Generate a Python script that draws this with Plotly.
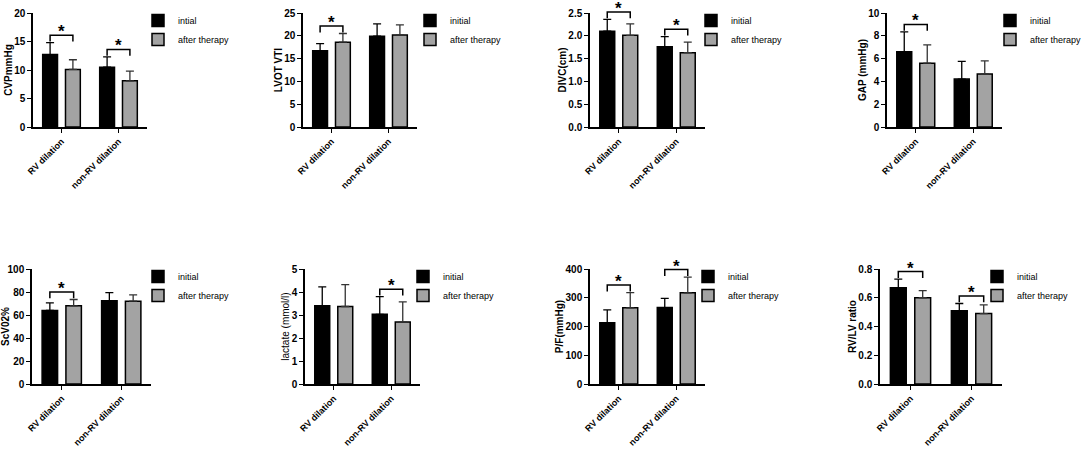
import plotly.graph_objects as go

W, H = 1084, 450

categories = ["RV dilation", "non-RV dilation"]

y_titles = ["CVPmmHg", "LVOT VTI", "DIVC(cm)", "GAP (mmHg)",
            "ScV02%", "lactate (mmol/l)", "P/F(mmHg)", "RV/LV ratio"]

# means and upper error (SD) for [RV dilation, non-RV dilation]
cvp_initial = [12.7, 10.5]
cvp_initial_sd = [2.1, 1.8]
cvp_after = [10.1, 8.1]
cvp_after_sd = [1.7, 1.7]

lvot_initial = [16.7, 19.9]
lvot_initial_sd = [1.6, 2.7]
lvot_after = [18.6, 20.2]
lvot_after_sd = [1.9, 2.2]

divc_initial = [2.10, 1.76]
divc_initial_sd = [0.26, 0.22]
divc_after = [2.01, 1.63]
divc_after_sd = [0.25, 0.23]

gap_initial = [6.6, 4.2]
gap_initial_sd = [1.75, 1.55]
gap_after = [5.6, 4.65]
gap_after_sd = [1.6, 1.15]

scvo2_initial = [64, 72.5]
scvo2_initial_sd = [6.5, 7]
scvo2_after = [68, 72]
scvo2_after_sd = [5.5, 5.5]

lactate_initial = [3.40, 3.03]
lactate_initial_sd = [0.82, 0.77]
lactate_after = [3.37, 2.70]
lactate_after_sd = [0.95, 0.87]

pf_initial = [213, 266]
pf_initial_sd = [45, 32]
pf_after = [265, 317]
pf_after_sd = [53, 55]

rvlv_initial = [0.67, 0.51]
rvlv_initial_sd = [0.06, 0.05]
rvlv_after = [0.60, 0.49]
rvlv_after_sd = [0.05, 0.06]

# * between initial and after therapy, per group
sig = [[True, True], [True, False], [True, True], [True, False],
       [True, False], [False, True], [True, True], [True, True]]

y_max = [20, 25, 2.5, 10, 100, 5, 400, 0.8]
y_dtick = [5, 5, 0.5, 2, 20, 1, 100, 0.2]

initial_label = ["intial", "initial", "initial", "initial",
                 "initial", "initial", "initial", "initial"]

panels = [
    (cvp_initial, cvp_initial_sd, cvp_after, cvp_after_sd),
    (lvot_initial, lvot_initial_sd, lvot_after, lvot_after_sd),
    (divc_initial, divc_initial_sd, divc_after, divc_after_sd),
    (gap_initial, gap_initial_sd, gap_after, gap_after_sd),
    (scvo2_initial, scvo2_initial_sd, scvo2_after, scvo2_after_sd),
    (lactate_initial, lactate_initial_sd, lactate_after, lactate_after_sd),
    (pf_initial, pf_initial_sd, pf_after, pf_after_sd),
    (rvlv_initial, rvlv_initial_sd, rvlv_after, rvlv_after_sd),
]

# plot areas in pixels (left, right) and rows (top, bottom)
x_px = [(33, 147), (303, 417), (590, 705), (887, 1002),
        (32, 151), (305, 420), (590, 705), (880, 1002)]
rows_px = [(13, 127), (269, 384)]
legend_px = [(138, 6), (410, 6), (691, 6), (990, 6),
             (138, 262), (403, 262), (688, 262), (977, 262)]

FONT = "Arial, Liberation Sans, sans-serif"
BLACK = "#000000"
GREY = "#a3a3a3"

fig = go.Figure()
layout = dict(
    template="none",
    width=W, height=H, margin=dict(l=0, r=0, t=0, b=0, autoexpand=False),
    paper_bgcolor="white", plot_bgcolor="white",
    barmode="group", bargap=0.2, bargroupgap=0.35,
    font=dict(family=FONT, color="black"),
    shapes=[], annotations=[],
)

for i, (ini, ini_sd, aft, aft_sd) in enumerate(panels):
    n = i + 1
    xa = "x" if n == 1 else f"x{n}"
    ya = "y" if n == 1 else f"y{n}"
    lg = "legend" if n == 1 else f"legend{n}"
    row = rows_px[i // 4]

    fig.add_trace(go.Bar(
        x=[0, 1], y=ini, name=initial_label[i], xaxis=xa, yaxis=ya, legend=lg,
        marker=dict(color=BLACK, line=dict(color=BLACK, width=1.5)),
        error_y=dict(type="data", array=ini_sd, arrayminus=[0, 0], symmetric=False,
                     color=BLACK, thickness=1.3, width=4),
    ))
    fig.add_trace(go.Bar(
        x=[0, 1], y=aft, name="after therapy", xaxis=xa, yaxis=ya, legend=lg,
        marker=dict(color=GREY, line=dict(color=BLACK, width=1.5)),
        error_y=dict(type="data", array=aft_sd, arrayminus=[0, 0], symmetric=False,
                     color="#333333", thickness=1.3, width=4),
    ))

    key = "" if n == 1 else str(n)
    layout["xaxis" + key] = dict(
        domain=[x_px[i][0] / W, x_px[i][1] / W], anchor=ya, automargin=False,
        range=[-0.5, 1.5], tickvals=[0, 1], ticktext=categories,
        tickangle=-45, ticks="outside", ticklen=4, tickwidth=1.3,
        tickcolor=BLACK,
        showline=True, linecolor=BLACK, linewidth=1.5,
        showgrid=False, zeroline=False, fixedrange=True,
        tickfont=dict(size=9, family=FONT, weight="bold", color=BLACK),
    )
    layout["yaxis" + key] = dict(
        domain=[1 - row[1] / H, 1 - row[0] / H], anchor=xa, automargin=False,
        range=[0, y_max[i]], dtick=y_dtick[i],
        tickformat=".1f" if y_dtick[i] < 1 else "",
        ticks="outside", ticklen=4, tickwidth=1.3, tickcolor=BLACK,
        showline=True, linecolor=BLACK, linewidth=1.5,
        showgrid=False, zeroline=False, fixedrange=True,
        tickfont=dict(size=10, family=FONT, weight="bold", color=BLACK),
        title=dict(text=y_titles[i], standoff=0,
                   font=dict(size=10, family=FONT, color=BLACK,
                             weight="normal" if i == 5 else "bold")),
    )
    layout[lg] = dict(
        x=legend_px[i][0] / W, y=1 - legend_px[i][1] / H,
        xanchor="left", yanchor="top", bgcolor="rgba(0,0,0,0)",
        font=dict(size=9, family=FONT, color=BLACK), borderwidth=0,
    )

    # significance brackets, placed in axis-domain fractions so they are not clipped
    R = y_max[i]
    for g in range(2):
        if not sig[i][g]:
            continue
        top_err = max(ini[g] + ini_sd[g], aft[g] + aft_sd[g])
        y_low = (top_err + 0.01 * R) / R
        y_top = y_low + 0.055
        x0, x1 = (g - 0.2 + 0.5) / 2, (g + 0.2 + 0.5) / 2
        layout["shapes"].append(dict(
            type="path", xref=xa + " domain", yref=ya + " domain",
            path=f"M {x0},{y_low} L {x0},{y_top} L {x1},{y_top} L {x1},{y_low}",
            line=dict(color=BLACK, width=1.5),
        ))
        layout["annotations"].append(dict(
            x=(g + 0.5) / 2, y=y_top, xref=xa + " domain", yref=ya + " domain",
            text="*", showarrow=False,
            xanchor="center", yanchor="bottom", yshift=-8,
            font=dict(size=17, family=FONT, weight="bold", color=BLACK),
        ))

fig.update_layout(**layout)
# drop the browser's default 8px body margin so the figure sits at the page corner
fig.write_html("out.html", config={"displayModeBar": False},
               post_script="document.body.style.margin='0';")
